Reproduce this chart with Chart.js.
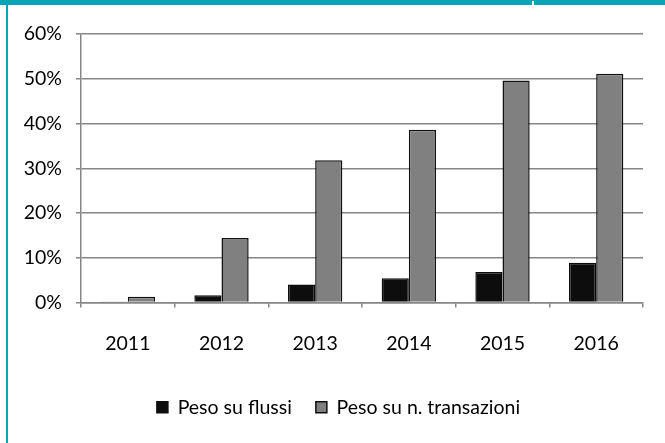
<!DOCTYPE html>
<html>
<head>
<meta charset="utf-8">
<script src="https://cdn.jsdelivr.net/npm/chart.js@4/dist/chart.umd.min.js"></script>
<style>
  html, body { margin: 0; padding: 0; background: #fff; }
  #wrap { position: relative; width: 665px; height: 443px; overflow: hidden; }
  #topBar { position: absolute; left: 0; top: 0; width: 665px; height: 5px; background: #07a5b5; }
  #notch { position: absolute; left: 532px; top: 1px; width: 2px; height: 4px; background: #fff; }
  #leftBar { position: absolute; left: 6px; top: 0; width: 2px; height: 443px; background: #07a5b5; }
  #chartBox { position: absolute; left: 0; top: 0; width: 665px; height: 443px; }
</style>
</head>
<body>
<div id="wrap">
  <div id="chartBox"><canvas id="mainChart"></canvas></div>
  <div id="topBar"></div>
  <div id="notch"></div>
  <div id="leftBar"></div>
</div>
<script>
// values (percent)
const years = ["2011", "2012", "2013", "2014", "2015", "2016"];
const pesoFlussi = [0.2, 1.6, 4.0, 5.4, 6.8, 8.9];
const pesoTransazioni = [1.3, 14.4, 31.8, 38.6, 49.6, 51.1];
const seriesNames = ["Peso su flussi", "Peso su n. transazioni"];

const axisGrey = '#868686';
const font = { family: 'Lato, "Liberation Sans", sans-serif', size: 19.5 };

// the legend in the original sits a bit right of the canvas centre
const shiftLegend = {
  id: 'shiftLegend',
  afterLayout(chart) {
    const lg = chart.legend;
    if (!lg) return;
    lg.left += 17;
    lg.right += 17;
    lg.top -= 1;
    lg.bottom -= 1;
  }
};

const ctx = document.getElementById('mainChart').getContext('2d');
const mainChart = new Chart(ctx, {
  type: 'bar',
  data: {
    labels: years,
    datasets: [{
      label: seriesNames[0],
      data: pesoFlussi,
      backgroundColor: '#0d0d0d',
      borderColor: '#0d0d0d',
      borderWidth: 1.5,
      categoryPercentage: 0.58,
      barPercentage: 1
    }, {
      label: seriesNames[1],
      data: pesoTransazioni,
      backgroundColor: '#808080',
      borderColor: '#111111',
      borderWidth: 1.5,
      categoryPercentage: 0.58,
      barPercentage: 1
    }]
  },
  options: {
    responsive: true,
    maintainAspectRatio: false,
    animation: false,
    layout: { padding: { left: 0, right: 22, top: 34, bottom: 15 } },
    plugins: {
      tooltip: { enabled: false },
      legend: {
        position: 'bottom',
        labels: {
          color: '#000',
          font: font,
          boxWidth: 11,
          boxHeight: 11,
          padding: 24
        }
      }
    },
    scales: {
      x: {
        grid: { drawOnChartArea: false, drawTicks: true, tickLength: 5, color: axisGrey, lineWidth: 1.5 },
        border: { color: axisGrey, width: 1.5 },
        ticks: { color: '#000', font: font, padding: 25, maxRotation: 0 },
        afterFit: (scale) => { scale.height = 72; }
      },
      y: {
        min: 0,
        max: 60,
        grid: { color: axisGrey, lineWidth: 1.5, tickLength: 5 },
        border: { color: axisGrey, width: 1.5 },
        ticks: {
          stepSize: 10,
          color: '#000',
          font: font,
          padding: 14,
          callback: (v) => v + '%'
        },
        afterFit: (scale) => { scale.width = 81; }
      }
    }
  },
  plugins: [shiftLegend]
});
</script>
</body>
</html>
